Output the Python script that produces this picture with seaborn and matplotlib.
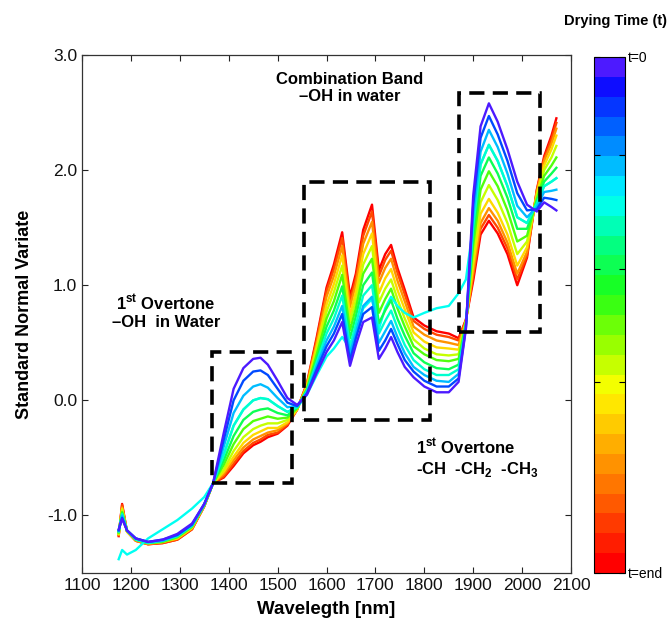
import numpy as np
import pandas as pd
import matplotlib
matplotlib.use("Agg")
import matplotlib.pyplot as plt
import seaborn as sns
from matplotlib.colors import LinearSegmentedColormap, ListedColormap, Normalize
from matplotlib.cm import ScalarMappable
from matplotlib.patches import Rectangle

# ---------------- data ----------------
wavelength_nm = [1175, 1182, 1192, 1210, 1235, 1265, 1295, 1325, 1350, 1368,
                 1390, 1410, 1430, 1450, 1465, 1480, 1500, 1520, 1540, 1560,
                 1580, 1600, 1615, 1632, 1648, 1660, 1675, 1693, 1707, 1720,
                 1732, 1745, 1760, 1778, 1800, 1825, 1850, 1870, 1885, 1900,
                 1915, 1932, 1950, 1970, 1990, 2010, 2030, 2045, 2060, 2070]

snv_t00 = [-1.12, -1.03, -1.13, -1.20, -1.23, -1.21, -1.16, -1.07, -0.90, -0.72,
           -0.28, 0.10, 0.28, 0.36, 0.37, 0.31, 0.17, 0.02, -0.04,
           0.05, 0.24, 0.42, 0.52, 0.68, 0.30, 0.48, 0.68, 0.72, 0.36, 0.45, 0.55, 0.42, 0.29, 0.20, 0.12, 0.07, 0.07, 0.16,
           0.62, 1.78, 2.38, 2.58, 2.42, 2.18, 1.90, 1.70, 1.64, 1.72, 1.68, 1.65]
snv_t01 = [-1.13, -1.02, -1.13, -1.20, -1.23, -1.21, -1.17, -1.08, -0.90, -0.72,
           -0.34, 0.00, 0.17, 0.25, 0.26, 0.22, 0.10, -0.02, -0.05,
           0.06, 0.27, 0.47, 0.58, 0.75, 0.35, 0.54, 0.75, 0.81, 0.43, 0.52, 0.62, 0.49, 0.35, 0.25, 0.17, 0.12, 0.12, 0.19,
           0.63, 1.70, 2.28, 2.47, 2.31, 2.08, 1.80, 1.65, 1.66, 1.76, 1.75, 1.74]
snv_t02 = [-1.13, -1.00, -1.13, -1.20, -1.23, -1.22, -1.17, -1.08, -0.90, -0.72,
           -0.40, -0.11, 0.04, 0.12, 0.14, 0.11, 0.02, -0.06, -0.05,
           0.07, 0.30, 0.52, 0.64, 0.82, 0.41, 0.59, 0.82, 0.90, 0.50, 0.60, 0.69, 0.55, 0.41, 0.29, 0.22, 0.17, 0.16, 0.23,
           0.64, 1.61, 2.16, 2.35, 2.20, 1.97, 1.69, 1.59, 1.68, 1.81, 1.82, 1.83]
snv_t03 = [-1.14, -0.99, -1.13, -1.21, -1.24, -1.22, -1.18, -1.09, -0.91, -0.72,
           -0.47, -0.22, -0.08, 0.00, 0.02, 0.01, -0.05, -0.10, -0.06,
           0.08, 0.33, 0.58, 0.71, 0.91, 0.47, 0.66, 0.91, 1.00, 0.58, 0.69, 0.78, 0.63, 0.48, 0.35, 0.27, 0.22, 0.22, 0.27,
           0.65, 1.52, 2.05, 2.22, 2.08, 1.86, 1.59, 1.54, 1.71, 1.86, 1.90, 1.93]
snv_t04 = [-1.14, -0.98, -1.13, -1.21, -1.24, -1.22, -1.18, -1.09, -0.91, -0.72,
           -0.52, -0.31, -0.17, -0.10, -0.08, -0.07, -0.11, -0.13, -0.06,
           0.09, 0.36, 0.64, 0.78, 0.99, 0.54, 0.73, 1.00, 1.11, 0.67, 0.78, 0.87, 0.71, 0.56, 0.41, 0.33, 0.28, 0.27, 0.31,
           0.66, 1.44, 1.95, 2.11, 1.97, 1.76, 1.49, 1.49, 1.73, 1.90, 1.97, 2.02]
snv_t05 = [-1.15, -0.97, -1.13, -1.21, -1.24, -1.23, -1.19, -1.10, -0.91, -0.72,
           -0.56, -0.38, -0.25, -0.18, -0.16, -0.14, -0.16, -0.15, -0.07,
           0.10, 0.40, 0.71, 0.86, 1.09, 0.61, 0.80, 1.10, 1.23, 0.76, 0.88, 0.97, 0.80, 0.64, 0.47, 0.40, 0.35, 0.34, 0.36,
           0.67, 1.35, 1.83, 1.99, 1.86, 1.65, 1.38, 1.43, 1.75, 1.95, 2.04, 2.11]
snv_t06 = [-1.16, -0.95, -1.14, -1.21, -1.24, -1.23, -1.19, -1.10, -0.91, -0.72,
           -0.60, -0.44, -0.32, -0.25, -0.22, -0.20, -0.20, -0.17, -0.07,
           0.11, 0.44, 0.77, 0.94, 1.17, 0.68, 0.87, 1.18, 1.34, 0.85, 0.97, 1.05, 0.88, 0.71, 0.53, 0.45, 0.40, 0.39, 0.40,
           0.68, 1.26, 1.72, 1.87, 1.74, 1.54, 1.27, 1.38, 1.77, 2.00, 2.11, 2.21]
snv_t07 = [-1.16, -0.94, -1.14, -1.21, -1.24, -1.23, -1.20, -1.11, -0.91, -0.72,
           -0.62, -0.49, -0.37, -0.30, -0.27, -0.24, -0.24, -0.19, -0.08,
           0.12, 0.47, 0.83, 1.01, 1.26, 0.74, 0.94, 1.27, 1.45, 0.93, 1.06, 1.14, 0.96, 0.79, 0.59, 0.51, 0.46, 0.45, 0.44,
           0.68, 1.18, 1.62, 1.75, 1.63, 1.44, 1.17, 1.33, 1.79, 2.04, 2.18, 2.30]
snv_t08 = [-1.17, -0.93, -1.14, -1.22, -1.25, -1.23, -1.20, -1.11, -0.92, -0.72,
           -0.64, -0.52, -0.41, -0.34, -0.31, -0.28, -0.26, -0.20, -0.08,
           0.14, 0.50, 0.90, 1.08, 1.34, 0.81, 1.01, 1.36, 1.55, 1.02, 1.15, 1.23, 1.04, 0.86, 0.64, 0.57, 0.52, 0.50, 0.48,
           0.69, 1.12, 1.54, 1.67, 1.56, 1.37, 1.10, 1.29, 1.81, 2.08, 2.23, 2.36]
snv_t09 = [-1.17, -0.91, -1.14, -1.22, -1.25, -1.24, -1.21, -1.12, -0.92, -0.72,
           -0.66, -0.55, -0.44, -0.37, -0.34, -0.30, -0.28, -0.21, -0.08,
           0.14, 0.53, 0.95, 1.14, 1.41, 0.86, 1.06, 1.43, 1.64, 1.08, 1.22, 1.30, 1.11, 0.92, 0.69, 0.62, 0.57, 0.55, 0.52,
           0.70, 1.08, 1.49, 1.61, 1.50, 1.32, 1.05, 1.26, 1.82, 2.10, 2.27, 2.41]
snv_t10 = [-1.18, -0.90, -1.14, -1.22, -1.25, -1.24, -1.21, -1.12, -0.92, -0.72,
           -0.67, -0.57, -0.46, -0.39, -0.36, -0.32, -0.29, -0.22, -0.08,
           0.15, 0.55, 0.98, 1.18, 1.46, 0.90, 1.10, 1.48, 1.70, 1.13, 1.27, 1.35, 1.15, 0.96, 0.72, 0.65, 0.60, 0.58, 0.54,
           0.70, 1.04, 1.44, 1.56, 1.45, 1.27, 1.00, 1.24, 1.83, 2.12, 2.30, 2.45]
snv_cyan_outlier = [-1.38, -1.30, -1.34, -1.30, -1.20, -1.12, -1.04, -0.94, -0.84, -0.72,
                    -0.47, -0.22, -0.08, 0.00, 0.02, 0.01, -0.05, -0.10, -0.06,
                    0.05, 0.22, 0.38, 0.45, 0.55, 0.45, 0.60, 0.80, 0.88, 0.62, 0.80, 0.90, 0.82, 0.76, 0.72, 0.76, 0.80, 0.82, 0.93,
                    1.05, 1.52, 2.05, 2.22, 2.08, 1.86, 1.59, 1.54, 1.71, 1.86, 1.90, 1.93]

# drying-time position of each spectrum on the colour scale (1 = t=0, 0 = t=end)
spectrum_names = ["t10", "t09", "t08", "t07", "t06", "t05", "outlier", "t04", "t03", "t02", "t01", "t00"]
spectrum_values = [snv_t10, snv_t09, snv_t08, snv_t07, snv_t06, snv_t05, snv_cyan_outlier,
                   snv_t04, snv_t03, snv_t02, snv_t01, snv_t00]
colour_level = [0.0, 0.1, 0.2, 0.3, 0.4, 0.5, 0.73, 0.6, 0.7, 0.8, 0.9, 1.0]

# annotated spectral bands (wl_start, wl_end, snv_low, snv_high)
band_boxes = [(1366, 1529, -0.72, 0.42),
              (1554, 1812, -0.17, 1.90),
              (1871, 2037, 0.59, 2.67)]

# ---------------- style ----------------
plt.rcParams['font.family'] = ['Liberation Sans', 'DejaVu Sans']
plt.rcParams['mathtext.fontset'] = 'custom'
plt.rcParams['mathtext.rm'] = 'Liberation Sans'
plt.rcParams['mathtext.bf'] = 'Liberation Sans:bold'

anchors = [(0.00, (1.0, 0.0, 0.0)), (0.07, (1.0, 0.2, 0.0)), (0.14, (1.0, 0.42, 0.0)),
           (0.21, (1.0, 0.6, 0.0)), (0.28, (1.0, 0.8, 0.0)), (0.35, (1.0, 1.0, 0.0)),
           (0.45, (0.55, 1.0, 0.0)), (0.55, (0.1, 1.0, 0.1)), (0.65, (0.0, 1.0, 0.55)),
           (0.74, (0.0, 1.0, 1.0)), (0.82, (0.0, 0.65, 1.0)), (0.90, (0.0, 0.3, 1.0)),
           (0.96, (0.05, 0.05, 1.0)), (1.00, (0.3, 0.1, 1.0))]
cmap = LinearSegmentedColormap.from_list("drying", anchors)
cmap_steps = ListedColormap(cmap(np.linspace(0, 1, 26)))

rows = []
for name, vals in zip(spectrum_names, spectrum_values):
    for w, v in zip(wavelength_nm, vals):
        rows.append({"wl": w, "snv": v, "spectrum": name})
df = pd.DataFrame(rows)
palette = {n: cmap(c) for n, c in zip(spectrum_names, colour_level)}

fig = plt.figure(figsize=(6.7, 6.25), dpi=100)
ax = fig.add_axes([0.1224, 0.0832, 0.7299, 0.8288])
cax = fig.add_axes([0.8866, 0.0832, 0.0463, 0.8256])

sns.lineplot(data=df, x="wl", y="snv", hue="spectrum", hue_order=spectrum_names,
             palette=palette, estimator=None, sort=False, legend=False,
             linewidth=1.7, ax=ax)

for (x0, x1, y0, y1) in band_boxes:
    ax.add_patch(Rectangle((x0, y0), x1 - x0, y1 - y0, fill=False, edgecolor="black",
                           linewidth=2.6, linestyle=(0, (4.2, 2.3)), zorder=6))

ax.set_xlim(1100, 2100)
ax.set_ylim(-1.5, 3.0)
ax.set_xticks(np.arange(1100, 2101, 100))
ax.set_yticks([-1, 0, 1, 2, 3])
ax.set_yticklabels(["-1.0", "0.0", "1.0", "2.0", "3.0"])
ax.tick_params(direction="in", top=True, right=True, length=4, width=0.8,
               labelsize=12.5, colors="#222222", labelcolor="#111111")
for s in ax.spines.values():
    s.set_linewidth(0.9)
    s.set_color("#333333")
ax.set_xlabel("Wavelegth [nm]", fontsize=13.5, fontweight="bold", labelpad=6)
ax.set_ylabel("Standard Normal Variate", fontsize=13, fontweight="bold", labelpad=10)

ax.text(1648, 2.71, "Combination Band\n–OH in water", ha="center", va="center",
        fontsize=12, fontweight="bold", linespacing=1.15)
ax.text(1272, 0.77, "1$^{\\mathbf{st}}$ Overtone\n–OH  in Water", ha="center", va="center",
        fontsize=12, fontweight="bold", linespacing=1.15)
ax.text(1783, -0.50, "1$^{\\mathbf{st}}$ Overtone\n-CH  -CH$_{\\mathbf{2}}$  -CH$_{\\mathbf{3}}$",
        ha="left", va="center", fontsize=12, fontweight="bold", linespacing=1.2)

sm = ScalarMappable(norm=Normalize(0, 1), cmap=cmap_steps)
cb = fig.colorbar(sm, cax=cax)
cb.set_ticks([0, 0.37, 0.59, 0.81, 1])
cb.set_ticklabels(["t=end", "", "", "", "t=0"])
cax.yaxis.set_ticks_position("both")
cax.yaxis.set_label_position("right")
cax.tick_params(direction="in", length=4, width=0.8, labelsize=10, pad=2,
                labelleft=False, labelright=True)
cb.outline.set_linewidth(0.8)

fig.text(0.918, 0.967, "Drying Time (t)", ha="center", va="center",
         fontsize=10.5, fontweight="bold")

fig.savefig("out.png", dpi=100)
